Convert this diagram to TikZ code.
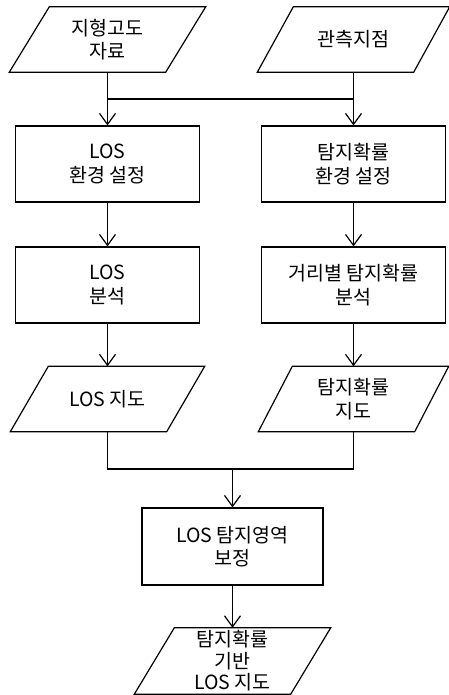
\documentclass[tikz,border=0pt]{standalone}
\usepackage{fontspec}
\setmainfont{Noto Sans CJK KR}
\usetikzlibrary{arrows.meta}
\newcommand{\paraline}[2]{\draw[flow] ([xshift=#2]#1.north west) -- ([xshift=#2]#1.north east) -- ([xshift=-#2]#1.south east) -- ([xshift=-#2]#1.south west) -- cycle;}
\begin{document}
\begin{tikzpicture}[x=1pt,y=-1pt,
  every node/.style={font=\fontsize{19.5}{23.5}\selectfont, align=center, inner sep=0pt},
  proc/.style={draw, line width=1.2pt, minimum width=184pt, minimum height=76pt},
  io/.style={minimum width=156pt, minimum height=65pt},
  flow/.style={line width=1.2pt},
  arr/.style={flow, -{Straight Barb[length=11pt,width=16pt,line width=1.2pt]}}
]
\useasboundingbox (0,0) rectangle (449,695);
\node[io] (p1) at (107.5,39.5) {지형고도\\자료};
\node[io] (p2) at (353.5,39.5) {관측지점};
\node[proc] (b1) at (107.5,164) {LOS\\환경 설정};
\node[proc] (b2) at (353.5,164) {탐지확률\\환경 설정};
\node[proc] (b3) at (107.5,285) {LOS\\분석};
\node[proc] (b4) at (353.5,285) {거리별 탐지확률\\분석};
\node[io] (p3) at (107.5,399) {LOS 지도};
\node[io] (p4) at (353.5,399) {탐지확률\\지도};
\node[proc, minimum width=181pt, minimum height=77pt] (b5) at (232.5,546.5) {LOS 탐지영역\\보정};
\node[io, minimum height=66pt, font=\fontsize{19.5}{21.5}\selectfont] (p5) at (232.5,661) {탐지확률\\기반\\LOS 지도};
\paraline{p1}{20pt}
\paraline{p2}{18pt}
\paraline{p3}{19pt}
\paraline{p4}{17pt}
\paraline{p5}{20pt}
\coordinate (h) at (0,99);
\coordinate (m) at (232.5,469);
\draw[arr] (p1.south) -- (b1.north);
\draw[arr] (p2.south) -- (b2.north);
\draw[flow] (p1.south |- h) -- (p2.south |- h);
\draw[arr] (b1) -- (b3);
\draw[arr] (b2) -- (b4);
\draw[arr] (b3) -- (p3);
\draw[arr] (b4) -- (p4);
\draw[flow] (p3.south) |- (m) -| (p4.south);
\draw[arr] (m) -- (b5.north);
\draw[arr] (b5) -- (p5);
\end{tikzpicture}
\end{document}
